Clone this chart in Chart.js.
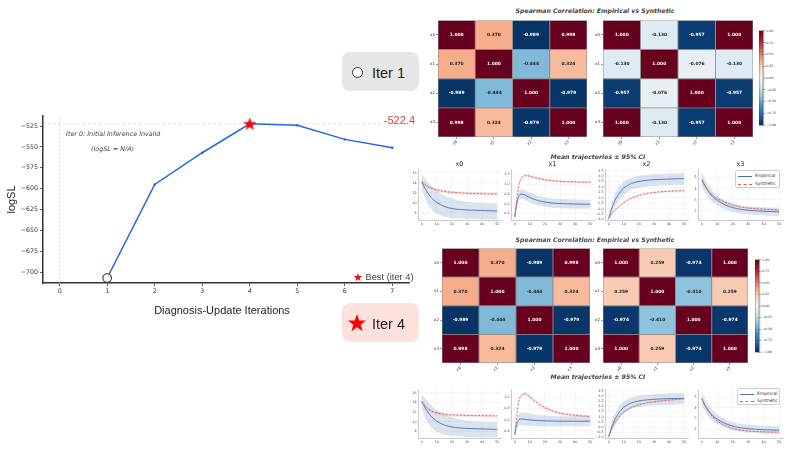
<!DOCTYPE html>
<html><head><meta charset="utf-8">
<script src="https://cdn.jsdelivr.net/npm/chart.js@4/dist/chart.umd.min.js"></script>
<style>
body{margin:0;background:#fff;width:789px;height:450px;overflow:hidden;position:relative;font-family:'Liberation Sans',Arial,sans-serif}
canvas{position:absolute}
.t{position:absolute;white-space:nowrap;line-height:1;z-index:5}
.box{position:absolute;border-radius:8px}
.lg{position:absolute;background:#fff;border:0.6px solid #ccc;border-radius:2px;box-sizing:border-box;z-index:5}
.lg span{position:absolute;font:4.4px 'DejaVu Sans';color:#333;line-height:1}
.lg i{position:absolute;width:14px;height:0}
</style></head><body>
<script>
// ---------------- DATA ----------------
const iterations = [1, 2, 3, 4, 5, 6, 7];
const logSL = [-707, -595, -557, -522.4, -524, -541, -551];
const bestIter = 4;
const bestValue = -522.4;
const mainXTicks = [0, 1, 2, 3, 4, 5, 6, 7];
const mainYTicks = [-700, -675, -650, -625, -600, -575, -550, -525];

const varNames = ['x0', 'x1', 'x2', 'x3'];
const corrEmpirical = [
  [1.000, 0.370, -0.989, 0.998],
  [0.370, 1.000, -0.444, 0.324],
  [-0.989, -0.444, 1.000, -0.979],
  [0.998, 0.324, -0.979, 1.000]];
const corrSynthIter1 = [
  [1.000, -0.130, -0.957, 1.000],
  [-0.130, 1.000, -0.076, -0.130],
  [-0.957, -0.076, 1.000, -0.957],
  [1.000, -0.130, -0.957, 1.000]];
const corrSynthIter4 = [
  [1.000, 0.259, -0.974, 1.000],
  [0.259, 1.000, -0.410, 0.259],
  [-0.974, -0.410, 1.000, -0.974],
  [1.000, 0.259, -0.974, 1.000]];
const cbarTicks = [-1, -0.75, -0.5, -0.25, 0, 0.25, 0.5, 0.75, 1];

const timePoints = [0, 1, 2, 3, 4, 6, 8, 10, 15, 20, 25, 30, 40, 50];
const timeTicks = [0, 10, 20, 30, 40, 50];
// x0
const x0EmpMean = [14.2, 13.6, 13.0, 12.5, 12.0, 11.2, 10.6, 10.1, 9.3, 8.9, 8.7, 8.6, 8.5, 8.4];
const x0EmpHi   = [15.8, 15.4, 15.0, 14.6, 14.2, 13.5, 12.9, 12.4, 11.5, 10.9, 10.5, 10.2, 10.0, 9.9];
const x0EmpLo   = [12.8, 11.9, 11.1, 10.4, 9.8, 8.9, 8.3, 7.9, 7.3, 7.0, 6.9, 6.8, 6.7, 6.7];
const x0SynIter1 = [14.3, 14.0, 13.7, 13.5, 13.3, 13.0, 12.8, 12.6, 12.3, 12.15, 12.05, 11.95, 11.85, 11.8];
const x0SynIter4 = [14.3, 13.8, 13.4, 13.0, 12.7, 12.3, 12.0, 11.8, 11.55, 11.4, 11.35, 11.3, 11.25, 11.2];
const x0SynCI = [0.2, 0.25, 0.28, 0.3, 0.3, 0.3, 0.3, 0.3, 0.3, 0.3, 0.3, 0.3, 0.3, 0.3];
const x0YTicks = [8, 10, 12, 14, 16];
// x1
const x1EmpMeanIter1 = [0.33, 0.55, 0.70, 0.77, 0.80, 0.79, 0.76, 0.73, 0.67, 0.635, 0.615, 0.605, 0.595, 0.59];
const x1EmpHiIter1   = [0.36, 0.62, 0.79, 0.87, 0.90, 0.89, 0.86, 0.83, 0.77, 0.73, 0.71, 0.70, 0.69, 0.68];
const x1EmpLoIter1   = [0.30, 0.48, 0.61, 0.68, 0.70, 0.69, 0.66, 0.63, 0.57, 0.54, 0.52, 0.51, 0.50, 0.50];
const x1SynIter1 = [0.33, 0.60, 0.85, 1.02, 1.11, 1.17, 1.18, 1.165, 1.125, 1.095, 1.075, 1.06, 1.05, 1.045];
const x1EmpMeanIter4 = [0.34, 0.48, 0.57, 0.605, 0.613, 0.61, 0.60, 0.595, 0.585, 0.58, 0.576, 0.574, 0.573, 0.573];
const x1EmpHiIter4   = [0.36, 0.55, 0.66, 0.71, 0.73, 0.73, 0.72, 0.71, 0.69, 0.675, 0.667, 0.663, 0.66, 0.66];
const x1EmpLoIter4   = [0.31, 0.41, 0.47, 0.495, 0.50, 0.495, 0.49, 0.487, 0.485, 0.485, 0.485, 0.485, 0.485, 0.485];
const x1SynIter4 = [0.337, 0.585, 0.815, 0.96, 1.02, 1.063, 1.05, 1.005, 0.90, 0.815, 0.757, 0.717, 0.677, 0.66];
const x1SynCI = [0.01, 0.02, 0.025, 0.025, 0.025, 0.025, 0.025, 0.025, 0.025, 0.025, 0.025, 0.025, 0.025, 0.025];
const x1YTicksIter1 = [0.4, 0.6, 0.8, 1.0, 1.2];
const x1YTicksIter4 = [0.4, 0.6, 0.8, 1.0];
// x2
const x2EmpMean = [-0.9, -0.4, 0.04, 0.38, 0.73, 1.23, 1.62, 1.92, 2.33, 2.52, 2.62, 2.68, 2.74, 2.78];
const x2EmpHi   = [-0.85, -0.05, 0.55, 0.95, 1.3, 1.85, 2.2, 2.5, 2.85, 3.02, 3.1, 3.17, 3.24, 3.29];
const x2EmpLo   = [-0.95, -0.7, -0.45, -0.15, 0.15, 0.62, 1.02, 1.32, 1.75, 1.94, 2.04, 2.1, 2.16, 2.2];
const x2SynIter1 = [-0.9, -0.68, -0.48, -0.31, -0.14, 0.13, 0.38, 0.59, 0.98, 1.23, 1.39, 1.5, 1.62, 1.66];
const x2SynIter4 = [-0.9, -0.5, -0.12, 0.2, 0.42, 0.85, 1.2, 1.48, 1.9, 2.16, 2.32, 2.44, 2.6, 2.72];
const x2SynCI = [0.04, 0.06, 0.07, 0.08, 0.08, 0.08, 0.08, 0.08, 0.08, 0.08, 0.08, 0.08, 0.08, 0.08];
const x2YTicks = [-1.0, -0.5, 0.0, 0.5, 1.0, 1.5, 2.0, 2.5, 3.0, 3.5];
// x3
const x3EmpMean = [4.85, 4.55, 4.27, 4.02, 3.8, 3.42, 3.15, 2.95, 2.55, 2.3, 2.15, 2.06, 1.97, 1.92];
const x3EmpHi   = [5.45, 5.15, 4.85, 4.6, 4.35, 3.95, 3.62, 3.38, 2.95, 2.68, 2.52, 2.43, 2.34, 2.3];
const x3EmpLo   = [4.25, 3.95, 3.68, 3.45, 3.25, 2.9, 2.66, 2.5, 2.15, 1.92, 1.78, 1.7, 1.6, 1.54];
const x3SynIter1 = [4.7, 4.45, 4.22, 4.02, 3.84, 3.53, 3.3, 3.12, 2.78, 2.53, 2.36, 2.26, 2.15, 2.1];
const x3SynIter4 = [4.85, 4.52, 4.22, 3.96, 3.73, 3.33, 3.02, 2.78, 2.35, 2.08, 1.93, 1.84, 1.77, 1.74];
const x3SynCI = [0.05, 0.06, 0.06, 0.06, 0.06, 0.06, 0.06, 0.06, 0.06, 0.06, 0.06, 0.06, 0.06, 0.06];
const x3YTicks = [2, 3, 4, 5];

// ---------------- HELPERS ----------------
Chart.defaults.font.family = "'DejaVu Sans', sans-serif";
Chart.defaults.color = '#333';
const BASE = {responsive: false, animation: false, devicePixelRatio: 1, events: [],
  plugins: {legend: {display: false}, tooltip: {enabled: false}, title: {display: false}}};

function mk(l, t, w, h) {
  const c = document.createElement('canvas');
  c.width = w; c.height = h;
  Object.assign(c.style, {left: l + 'px', top: t + 'px', width: w + 'px', height: h + 'px'});
  document.body.appendChild(c);
  return c;
}
function txt(s, l, t, css) {
  const d = document.createElement('div');
  d.className = 't'; d.textContent = s;
  d.style.cssText += 'left:' + l + 'px;top:' + t + 'px;' + css;
  document.body.appendChild(d);
  return d;
}
const minus = v => String(v).replace('-', '\u2212');
const fixTicks = arr => (s => { s.ticks = arr.map(v => ({value: v})); });

const RDBU = ['#053061', '#2166ac', '#4393c3', '#92c5de', '#d1e5f0', '#f7f7f7', '#fddbc7', '#f4a582', '#d6604d', '#b2182b', '#67001f'];
function hex2rgb(h) { return [1, 3, 5].map(i => parseInt(h.substr(i, 2), 16)); }
function cmap(v) {
  const t = Math.max(0, Math.min(1, (v + 1) / 2)) * 10;
  const i = Math.min(9, Math.floor(t)), f = t - i;
  const a = hex2rgb(RDBU[i]), b = hex2rgb(RDBU[i + 1]);
  return 'rgb(' + a.map((x, k) => Math.round(x + (b[k] - x) * f)).join(',') + ')';
}
function starPath(ctx, cx, cy, R, r) {
  ctx.beginPath();
  for (let k = 0; k < 10; k++) {
    const ang = -Math.PI / 2 + k * Math.PI / 5, rad = k % 2 ? r : R;
    const x = cx + rad * Math.cos(ang), y = cy + rad * Math.sin(ang);
    k ? ctx.lineTo(x, y) : ctx.moveTo(x, y);
  }
  ctx.closePath();
}
const starImg = document.createElement('canvas');
starImg.width = 13; starImg.height = 13;
(() => { const c = starImg.getContext('2d'); starPath(c, 6.5, 7, 6.3, 2.6); c.fillStyle = '#f00'; c.fill(); c.strokeStyle = '#c00'; c.lineWidth = 0.5; c.stroke(); })();

// ---------------- MAIN LINE CHART ----------------
const XMIN = -0.35, XMAX = 7.35, YMIN = -713, YMAX = -513;
const mainText = {
  id: 'mainText',
  afterDraw(chart) {
    const ctx = chart.ctx, ys = chart.scales.y, ca = chart.chartArea;
    ctx.save();
    ctx.fillStyle = '#222';
    ctx.font = "11px 'Liberation Sans'";
    ctx.textAlign = 'center'; ctx.textBaseline = 'middle';
    ctx.fillText('Diagnosis-Update Iterations', 222, 211);
    ctx.save(); ctx.translate(12, (ca.top + ca.bottom) / 2); ctx.rotate(-Math.PI / 2);
    ctx.fillText('logSL', 0, 0); ctx.restore();
    ctx.fillStyle = '#e8412c'; ctx.font = "11px 'Liberation Sans'"; ctx.textAlign = 'right';
    ctx.fillText(String(bestValue), 415, ys.getPixelForValue(bestValue) - 3);
    ctx.fillStyle = '#444'; ctx.font = "italic 6.4px 'DejaVu Sans'"; ctx.textAlign = 'left';
    ctx.fillText('Iter 0: Initial Inference Invalid', 66, 34.5);
    ctx.fillText('(logSL = N/A)', 91, 49);
    ctx.restore();
  }
};
new Chart(mk(0, 100, 420, 230), {
  type: 'line',
  data: {datasets: [
    {data: [{x: bestIter, y: bestValue}], pointStyle: starImg, pointRadius: 6, showLine: false, order: 0},
    {data: [{x: iterations[0], y: logSL[0]}], pointStyle: 'circle', pointRadius: 4.3, pointBackgroundColor: '#fff',
     pointBorderColor: '#333', pointBorderWidth: 1.1, showLine: false, order: 0},
    {data: iterations.map((x, i) => ({x, y: logSL[i]})), borderColor: '#2563eb', backgroundColor: '#2563eb',
     borderWidth: 1.5, pointRadius: 1.2, pointBorderWidth: 0, tension: 0, order: 1},
    {data: [{x: XMIN, y: bestValue}, {x: XMAX, y: bestValue}], borderColor: 'rgba(255,80,80,0.3)', borderWidth: 0.8,
     borderDash: [3, 2], pointRadius: 0, order: 2},
    {data: [{x: 0, y: YMIN}, {x: 0, y: YMAX}], borderColor: '#d4d4d4', borderWidth: 0.8,
     borderDash: [2, 2], pointRadius: 0, order: 2}
  ]},
  options: Object.assign({}, BASE, {
    layout: {padding: {top: 16, right: 11, left: 0, bottom: 0}},
    scales: {
      x: {type: 'linear', min: XMIN, max: XMAX, afterBuildTicks: fixTicks(mainXTicks), afterFit: s => { s.height = 47; },
          ticks: {font: {size: 6.3}, color: '#333', padding: 2, autoSkip: false, maxRotation: 0},
          grid: {drawOnChartArea: false, tickLength: 3, color: '#333', lineWidth: 0.8},
          border: {color: '#333', width: 1.5}},
      y: {type: 'linear', min: YMIN, max: YMAX, afterBuildTicks: fixTicks(mainYTicks), afterFit: s => { s.width = 43; },
          ticks: {font: {size: 6.3}, color: '#333', padding: 2, autoSkip: false, callback: v => minus(v)},
          grid: {drawOnChartArea: false, tickLength: 3, color: '#333', lineWidth: 0.8},
          border: {color: '#333', width: 1.5}}
    }
  }),
  plugins: [mainText]
});

// legend of main chart + iteration badges
(() => {
  const lg = document.createElement('div');
  lg.className = 't';
  lg.style.cssText += 'left:353px;top:270px;font:9.3px Liberation Sans;color:#444';
  lg.innerHTML = '<span style="color:#f00;font:11px DejaVu Sans;position:relative;top:1px">\u2605</span> Best (iter 4)';
  document.body.appendChild(lg);

  const b1 = document.createElement('div'); b1.className = 'box';
  b1.style.cssText += 'left:342px;top:52px;width:77px;height:39px;background:#e6e6e6';
  b1.innerHTML = '<div style="position:absolute;left:10px;top:14.5px;width:9px;height:9px;border:1.3px solid #333;border-radius:50%;background:#fff"></div>' +
    '<div class="t" style="left:30px;top:12.5px;font:14.5px Liberation Sans;color:#222">Iter 1</div>';
  document.body.appendChild(b1);

  const b4 = document.createElement('div'); b4.className = 'box';
  b4.style.cssText += 'left:342px;top:303px;width:77px;height:39px;background:#fde1dd';
  b4.innerHTML = '<canvas id="bstar" width="20" height="20" style="left:5px;top:10px"></canvas>' +
    '<div class="t" style="left:30px;top:13px;font:14.5px Liberation Sans;color:#222">Iter 4</div>';
  document.body.appendChild(b4);
  const c = document.getElementById('bstar').getContext('2d');
  starPath(c, 10, 10.5, 9.5, 3.8); c.fillStyle = '#f00'; c.fill();
})();

// ---------------- HEATMAPS ----------------
const cellText = {
  id: 'cellText',
  afterDatasetsDraw(chart) {
    const ctx = chart.ctx; ctx.save();
    ctx.font = "bold 4.4px 'DejaVu Sans'"; ctx.textAlign = 'center'; ctx.textBaseline = 'middle';
    chart.data.datasets.forEach((ds, i) => {
      chart.getDatasetMeta(i).data.forEach((el, j) => {
        const v = ds.values[j];
        ctx.fillStyle = Math.abs(v) > 0.5 ? '#fff' : '#222';
        ctx.fillText(v.toFixed(3), el.x, (el.y + el.base) / 2);
      });
    });
    ctx.restore();
  }
};
function heatmap(r, matrix) {
  new Chart(mk(r.l - 14, r.t - 2, r.w + 16, r.h + 16), {
    type: 'bar',
    data: {labels: varNames, datasets: matrix.map((row, ri) => ({
      data: row.map(() => [ri, ri + 1]), values: row,
      backgroundColor: row.map(cmap), borderColor: '#8a8a8a', borderWidth: 0.8, borderSkipped: false,
      grouped: false, barPercentage: 1, categoryPercentage: 1
    }))},
    options: Object.assign({}, BASE, {
      layout: {padding: {top: 2, right: 2, left: 0, bottom: 0}},
      scales: {
        x: {afterFit: s => { s.height = 14; }, offset: true,
            ticks: {font: {size: 4}, color: '#333', minRotation: 45, maxRotation: 45, padding: 0.5, autoSkip: false},
            grid: {offset: false, drawOnChartArea: false, tickLength: 2, color: '#333', lineWidth: 0.5}, border: {display: false}},
        y: {type: 'linear', min: 0, max: 4, reverse: true, afterFit: s => { s.width = 14; },
            afterBuildTicks: fixTicks([0.5, 1.5, 2.5, 3.5]),
            ticks: {font: {size: 4}, color: '#333', padding: 1, autoSkip: false, callback: v => varNames[Math.floor(v)]},
            grid: {drawOnChartArea: false, tickLength: 2, color: '#333', lineWidth: 0.5}, border: {display: false}}
      }
    }),
    plugins: [cellText]
  });
}
const cbarFrame = {id: 'cbf', afterDatasetsDraw(chart) {
  const ca = chart.chartArea, ctx = chart.ctx; ctx.save();
  ctx.strokeStyle = '#333'; ctx.lineWidth = 0.6; ctx.strokeRect(ca.left, ca.top, ca.right - ca.left, ca.bottom - ca.top); ctx.restore(); }};
function colorbar(r) {
  new Chart(mk(r.l, r.t - 2, r.w + 13, r.h + 4), {
    type: 'bar',
    data: {labels: [''], datasets: [{data: [[-1, 1]], borderWidth: 0, barPercentage: 1, categoryPercentage: 1,
      backgroundColor: c => {
        const ca = c.chart.chartArea; if (!ca) return '#888';
        const g = c.chart.ctx.createLinearGradient(0, ca.bottom, 0, ca.top);
        RDBU.forEach((col, i) => g.addColorStop(i / 10, col));
        return g;
      }}]},
    options: Object.assign({}, BASE, {
      layout: {padding: {top: 2, bottom: 2, left: 0, right: 0}},
      scales: {
        x: {display: false},
        y: {position: 'right', min: -1, max: 1, afterBuildTicks: fixTicks(cbarTicks), afterFit: s => { s.width = 13; },
            ticks: {font: {size: 3.2}, color: '#333', padding: 1, autoSkip: false, callback: v => minus(v.toFixed(2))},
            grid: {drawOnChartArea: false, tickLength: 1.5, color: '#333', lineWidth: 0.5}, border: {display: false}}
      }
    }),
    plugins: [cbarFrame]
  });
}

// ---------------- TRAJECTORIES ----------------
const EMP = '#4c72b0', SYN = '#e05c5c';
const pts = arr => timePoints.map((t, i) => ({x: t, y: arr[i]}));
function traj(r, p, yr, ticks, fmt) {
  const line = {pointRadius: 0, cubicInterpolationMode: 'monotone'};
  new Chart(mk(r.l - 10, r.t - 2, r.w + 12, r.h + 9), {
    type: 'line',
    data: {datasets: [
      Object.assign({data: pts(p.empHi), fill: '+1', backgroundColor: 'rgba(76,114,176,0.2)', borderWidth: 0, order: 3}, line),
      Object.assign({data: pts(p.empLo), fill: false, borderWidth: 0, order: 3}, line),
      Object.assign({data: pts(p.synMean.map((v, i) => v + p.synCI[i])), fill: '+1', backgroundColor: 'rgba(224,80,80,0.16)', borderWidth: 0, order: 2}, line),
      Object.assign({data: pts(p.synMean.map((v, i) => v - p.synCI[i])), fill: false, borderWidth: 0, order: 2}, line),
      Object.assign({data: pts(p.empMean), borderColor: EMP, borderWidth: 0.9, order: 1}, line),
      Object.assign({data: pts(p.synMean), borderColor: SYN, borderWidth: 0.9, borderDash: [2.2, 1.4], order: 0}, line)
    ]},
    options: Object.assign({}, BASE, {
      layout: {padding: {top: 2, right: 2, left: 0, bottom: 0}},
      scales: {
        x: {type: 'linear', min: -2.5, max: 52.5, afterBuildTicks: fixTicks(timeTicks), afterFit: s => { s.height = 7; },
            ticks: {font: {size: 3.3}, color: '#444', padding: 1, autoSkip: false, maxRotation: 0},
            grid: {color: '#ececec', lineWidth: 0.5, drawTicks: false}, border: {color: '#aaa', width: 0.6}},
        y: {type: 'linear', min: yr[0], max: yr[1], afterBuildTicks: fixTicks(ticks), afterFit: s => { s.width = 10; },
            ticks: {font: {size: 3.3}, color: '#444', padding: 1.5, autoSkip: false, callback: fmt},
            grid: {color: '#ececec', lineWidth: 0.5, drawTicks: false}, border: {color: '#aaa', width: 0.6}}
      }
    })
  });
}
function legendBox(l, t, w, h) {
  const d = document.createElement('div'); d.className = 'lg';
  d.style.cssText += 'left:' + l + 'px;top:' + t + 'px;width:' + w + 'px;height:' + h + 'px';
  const r1 = h * 0.28, r2 = h * 0.72;
  d.innerHTML = '<i style="left:2px;top:' + r1 + 'px;border-top:1.2px solid ' + EMP + '"></i>' +
    '<span style="left:19px;top:' + (r1 - 2.1) + 'px">Empirical</span>' +
    '<i style="left:2px;top:' + r2 + 'px;border-top:1.2px dashed ' + SYN + '"></i>' +
    '<span style="left:19px;top:' + (r2 - 2.1) + 'px">Synthetic</span>';
  document.body.appendChild(d);
}
const fInt = v => minus(v);
const f1 = v => minus(v.toFixed(1));

function block(y0, synCorr, iterKey, showTitles, hm, cb, trajTop, trajH, leg) {
  txt('Spearman Correlation: Empirical vs Synthetic', 595, y0 - 3.5, "font:bold italic 6.2px 'DejaVu Sans';color:#444;transform:translateX(-50%)");
  heatmap(hm[0], corrEmpirical);
  heatmap(hm[1], synCorr);
  colorbar(cb);
  txt('Mean trajectories \u00b1 95% CI', 598, trajTop - 15.5, "font:bold italic 6.2px 'DejaVu Sans';color:#444;transform:translateX(-50%)");
  const xs = [{l: 418, w: 83}, {l: 511, w: 83}, {l: 605, w: 83}, {l: 698, w: 85}];
  const it4 = iterKey === 4;
  const panels = [
    {empMean: x0EmpMean, empHi: x0EmpHi, empLo: x0EmpLo, synMean: it4 ? x0SynIter4 : x0SynIter1, synCI: x0SynCI, yr: [6.4, 16.7], ticks: x0YTicks, fmt: fInt},
    {empMean: it4 ? x1EmpMeanIter4 : x1EmpMeanIter1, empHi: it4 ? x1EmpHiIter4 : x1EmpHiIter1, empLo: it4 ? x1EmpLoIter4 : x1EmpLoIter1,
     synMean: it4 ? x1SynIter4 : x1SynIter1, synCI: x1SynCI, yr: it4 ? [0.256, 1.14] : [0.246, 1.306], ticks: it4 ? x1YTicksIter4 : x1YTicksIter1, fmt: f1},
    {empMean: x2EmpMean, empHi: x2EmpHi, empLo: x2EmpLo, synMean: it4 ? x2SynIter4 : x2SynIter1, synCI: x2SynCI, yr: [-1.13, 3.62], ticks: x2YTicks, fmt: f1},
    {empMean: x3EmpMean, empHi: x3EmpHi, empLo: x3EmpLo, synMean: it4 ? x3SynIter4 : x3SynIter1, synCI: x3SynCI, yr: [1.1, 5.72], ticks: x3YTicks, fmt: fInt}
  ];
  panels.forEach((p, i) => {
    traj({l: xs[i].l, w: xs[i].w, t: trajTop, h: trajH}, p, p.yr, p.ticks, p.fmt);
    if (showTitles) txt(varNames[i], xs[i].l + xs[i].w / 2, trajTop - 8, "font:6.5px 'DejaVu Sans';color:#222;transform:translateX(-50%)");
  });
  legendBox(leg[0], leg[1], leg[2], leg[3]);
}

block(10, corrSynthIter1, 1, true,
  [{l: 438, t: 19, w: 149, h: 118}, {l: 603, t: 19, w: 150, h: 118}],
  {l: 759, t: 30, w: 4.5, h: 96}, 168, 53, [735, 170, 45, 18]);
block(239, corrSynthIter4, 4, false,
  [{l: 442, t: 247, w: 148, h: 116}, {l: 603, t: 247, w: 145, h: 116}],
  {l: 755, t: 259, w: 4.5, h: 94}, 388, 51, [737, 388, 43, 17]);
</script>
</body></html>
